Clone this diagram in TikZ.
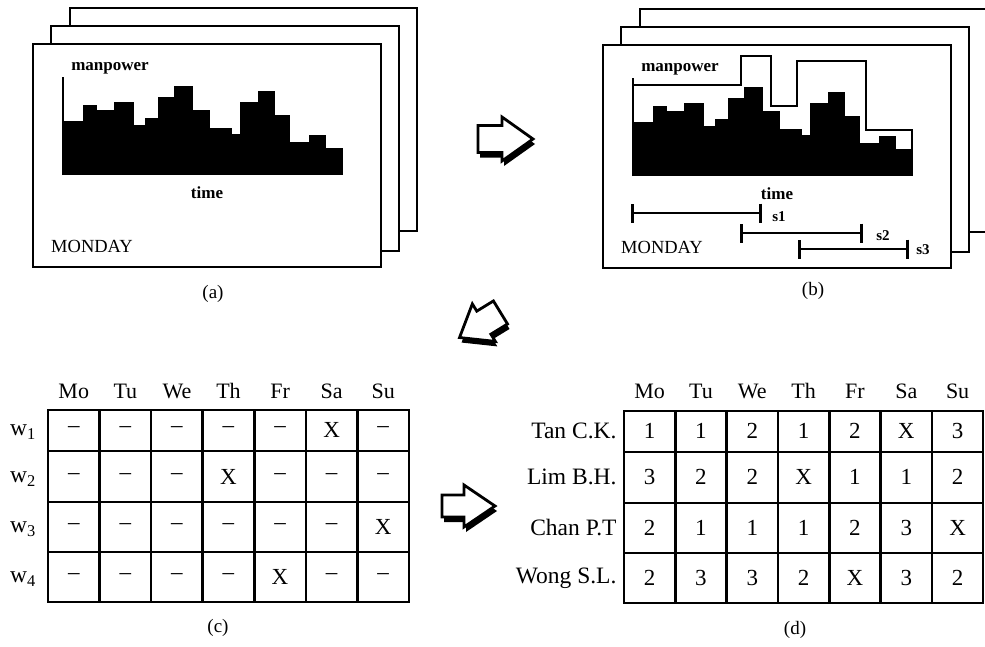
\documentclass[tikz,border=0pt]{standalone}
\usepackage{fontspec}
\setmainfont{Liberation Serif}
\usetikzlibrary{arrows.meta}

% block arrow: centre x, centre y, angle, tail x, neck x, tip x, shaft half width, head half width
\newcommand{\blockarrow}[8]{
  \begin{scope}[shift={(#1+2,#2+5)},rotate=#3]
    \fill (#4,#7) -- (#5,#7) -- (#5,#8) -- (#6,0) -- (#5,-#8) -- (#5,-#7) -- (#4,-#7) -- cycle;
  \end{scope}
  \begin{scope}[shift={(#1,#2)},rotate=#3]
    \draw [line width=2.8pt,fill=white,line join=miter]
      (#4,#7) -- (#5,#7) -- (#5,#8) -- (#6,0) -- (#5,-#8) -- (#5,-#7) -- (#4,-#7) -- cycle;
  \end{scope}
}

\begin{document}
\begin{tikzpicture}[x=1pt,y=-1pt,
    sheet/.style={line width=2.6pt,fill=white},
    tablegrid/.style={line width=2.6pt},
    sublabel/.style={font=\fontsize{19}{21}\selectfont},
    head/.style={font=\fontsize{22}{24}\selectfont,anchor=base},
    cell/.style={font=\fontsize{23}{25}\selectfont},
    rowname/.style={font=\fontsize{23.5}{25}\selectfont}]

    \useasboundingbox (0,0) rectangle (985,646);

    % the two stacks of day sheets, (a) and (b)
    \foreach \dx/\dy in {0/0,570/1} {
      \begin{scope}[shift={(\dx,\dy)}]
        \draw [sheet] (70,8) rectangle (417,231);
        \draw [sheet] (51,26) rectangle (399,251);
        \draw [sheet] (33,44) rectangle (381,267);

        \foreach \xa/\xb/\h in {63/83/121, 83/96.5/105, 96.5/114/110, 114/133.5/102,
                                133.5/144.5/125, 144.5/158/118, 158/174/97, 174/193/86,
                                193/210/110, 210/232/128, 232/240/134, 240/258/102,
                                258/275/91, 275/290/115, 290/309/142, 309/326/135,
                                326/343/148}
          \fill (\xa,175) rectangle (\xb,\h);
        \draw [line width=2pt] (63,175) -- (63,77);

        \node [font=\bfseries\fontsize{17}{19}\selectfont] (manpower\dx) at (110,68) {manpower};
        \node [font=\bfseries\fontsize{17}{19}\selectfont] (time\dx) at (207,193) {time};
        \node [font=\fontsize{18.5}{20}\selectfont] (monday\dx) at (92,246) {MONDAY};
      \end{scope}
    }

    % planned manpower and shifts in (b)
    \draw [line width=2.2pt] (634,85) -- (741,85) -- (741,56) -- (771,56) -- (771,106)
        -- (797,106) -- (797,61) -- (866,61) -- (866,130) -- (912,130) -- (912,150);

    \coordinate (s1a) at (631,213);
    \coordinate (s1b) at (762,213);
    \coordinate (s2a) at (740,233);
    \coordinate (s2b) at (863,233);
    \coordinate (s3a) at (798,249);
    \coordinate (s3b) at (909,249);
    \foreach \s in {1,2,3}
      \draw [line width=2pt,{Bar[width=19pt,line width=2.6pt]}-{Bar[width=19pt,line width=2.6pt]}] (s\s a) -- (s\s b);
    \node [font=\bfseries\fontsize{15}{17}\selectfont] (s1) at (779,217) {s1};
    \node [font=\bfseries\fontsize{15}{17}\selectfont] (s2) at (883,236) {s2};
    \node [font=\bfseries\fontsize{15}{17}\selectfont] (s3) at (923,250) {s3};

    \node [sublabel] (capa) at (213,294) {(a)};
    \node [sublabel] (capb) at (813,291) {(b)};

    % block arrows
    \blockarrow{505.5}{139}{0}{-27.5}{-3.5}{27.5}{13.5}{22}
    \blockarrow{480}{325}{211.5}{-24}{-4.5}{24}{13.5}{22}
    \blockarrow{468.5}{506}{0}{-26.5}{-4.5}{26.5}{11}{21}

    % table (c)
    \foreach \d [count=\i] in {Mo,Tu,We,Th,Fr,Sa,Su}
      \node [head] (c\d) at ({22.2+51.57*\i},398) {\d};
    \foreach \r/\y/\row in {1/430/{--,--,--,--,--,X,--},
                            2/477/{--,--,--,X,--,--,--},
                            3/527/{--,--,--,--,--,--,X},
                            4/577/{--,--,--,--,X,--,--}} {
      \node [rowname] (w\r) at (23,\y+2) {w\textsubscript{\r}};
      \foreach \v [count=\i] in \row
        \node [cell] (c\r\i) at ({22.2+51.57*\i},\y) {\v};
    }
    \draw [tablegrid] (48,410) rectangle (409,602);
    \foreach \i in {1,...,6}
      \draw [tablegrid] ({48+51.57*\i},410) -- ({48+51.57*\i},602);
    \foreach \y in {451,502,552}
      \draw [tablegrid] (48,\y) -- (409,\y);
    \node [sublabel] (capc) at (218,628) {(c)};

    % table (d)
    \foreach \d [count=\i] in {Mo,Tu,We,Th,Fr,Sa,Su}
      \node [head] (d\d) at ({598.3+51.33*\i},398) {\d};
    \foreach \r/\y/\name/\row in {1/431/Tan C.K./{1,1,2,1,2,X,3},
                                  2/477/Lim B.H./{3,2,2,X,1,1,2},
                                  3/528/Chan P.T/{2,1,1,1,2,3,X},
                                  4/578/Wong S.L./{2,3,3,2,X,3,2}} {
      \node [rowname,anchor=east] (n\r) at (620,\y) {\name};
      \foreach \v [count=\i] in \row
        \node [cell] (d\r\i) at ({598.3+51.33*\i},\y) {\v};
    }
    \draw [tablegrid] (624,411) rectangle (983,603);
    \foreach \i in {1,...,6}
      \draw [tablegrid] ({624+51.33*\i},411) -- ({624+51.33*\i},603);
    \foreach \y in {452,503,553}
      \draw [tablegrid] (624,\y) -- (983,\y);
    \node [sublabel] (capd) at (795,630) {(d)};
\end{tikzpicture}
\end{document}
